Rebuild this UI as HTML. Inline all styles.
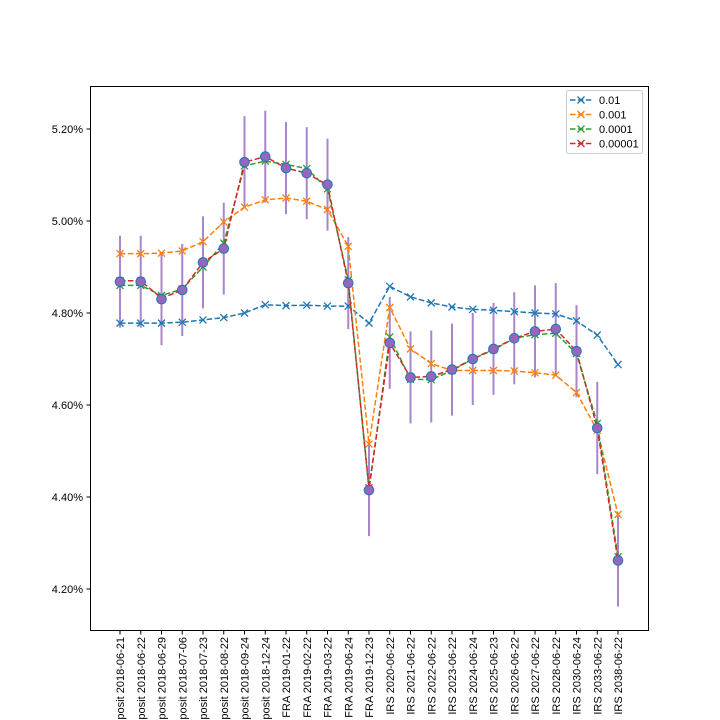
<!DOCTYPE html>
<html><head><meta charset="utf-8"><style>
html,body{margin:0;padding:0;background:#fff;}
svg{display:block;font-family:"Liberation Sans","DejaVu Sans",sans-serif;}
</style></head><body>
<svg id="chart" width="720" height="720" viewBox="0 0 720 720">
<rect x="0" y="0" width="720" height="720" fill="#fff"/>
<g id="yaxis"></g>
<g id="xaxis"></g>
<g id="bars"></g>
<g id="lines"></g>
<g id="dots"></g>
<rect x="90.5" y="86.5" width="558" height="544" fill="none" stroke="#000" stroke-width="1"/>
<g id="legend"></g>
</svg>
<script>
const categories=["Deposit 2018-06-21","Deposit 2018-06-22","Deposit 2018-06-29","Deposit 2018-07-06","Deposit 2018-07-23","Deposit 2018-08-22","Deposit 2018-09-24","Deposit 2018-12-24","FRA 2019-01-22","FRA 2019-02-22","FRA 2019-03-22","FRA 2019-06-24","FRA 2019-12-23","IRS 2020-06-22","IRS 2021-06-22","IRS 2022-06-22","IRS 2023-06-22","IRS 2024-06-24","IRS 2025-06-23","IRS 2026-06-22","IRS 2027-06-22","IRS 2028-06-22","IRS 2030-06-24","IRS 2033-06-22","IRS 2038-06-22"];
const market=[4.868,4.868,4.830,4.850,4.910,4.940,5.128,5.140,5.115,5.104,5.079,4.865,4.415,4.735,4.660,4.662,4.677,4.700,4.722,4.745,4.760,4.765,4.717,4.550,4.262];
const errorSize=[0.1,0.1,0.1,0.1,0.1,0.1,0.1,0.1,0.1,0.1,0.1,0.1,0.1,0.1,0.1,0.1,0.1,0.1,0.1,0.1,0.1,0.1,0.1,0.1,0.1];
const s001=[4.778,4.778,4.778,4.780,4.785,4.790,4.800,4.818,4.816,4.817,4.815,4.815,4.778,4.858,4.835,4.822,4.813,4.808,4.806,4.803,4.800,4.798,4.783,4.752,4.688];
const s0001=[4.929,4.929,4.930,4.935,4.955,4.998,5.030,5.046,5.050,5.043,5.025,4.945,4.515,4.812,4.722,4.690,4.675,4.675,4.675,4.674,4.670,4.665,4.627,4.545,4.362];
const s00001=[4.860,4.860,4.838,4.852,4.900,4.952,5.120,5.130,5.123,5.114,5.070,4.872,4.415,4.748,4.656,4.655,4.675,4.700,4.720,4.745,4.753,4.756,4.712,4.560,4.270];
const s000001=[4.870,4.870,4.832,4.850,4.910,4.940,5.128,5.140,5.115,5.104,5.078,4.865,4.420,4.735,4.660,4.662,4.677,4.700,4.722,4.745,4.760,4.765,4.717,4.550,4.262];
const seriesNames=["0.01","0.001","0.0001","0.00001"];
const yTicks=[4.2,4.4,4.6,4.8,5.0,5.2];

const NS="http://www.w3.org/2000/svg";
function X(i){return 120+i*(618-120)/(categories.length-1);}
function Y(v){return 221-(v-5.0)*460;}
function mk(tag,attrs,parent){const e=document.createElementNS(NS,tag);for(const k in attrs)e.setAttribute(k,attrs[k]);parent.appendChild(e);return e;}

const ya=document.getElementById('yaxis');
yTicks.forEach(t=>{
  const y=Y(t);
  const tk=mk('line',{x1:86.5,x2:90.5,y1:y,y2:y,stroke:'#000'},ya);
  
  
  const tx=mk('text',{x:83,y:y+4,'text-anchor':'end','font-size':'11',fill:'#000'},ya);
  tx.textContent=t.toFixed(2)+'%';
  
  
});
const xa=document.getElementById('xaxis');
categories.forEach((c,i)=>{
  const x=X(i);
  const tk=mk('line',{x1:x,x2:x,y1:630.5,y2:634.5,stroke:'#000'},xa);
  
  
  const tx=mk('text',{x:0,y:0,'text-anchor':'end','font-size':'11',fill:'#000',transform:`translate(${x+4},637) rotate(-90)`},xa);
  tx.textContent=c;
  
  
});
const bars=document.getElementById('bars');
market.forEach((v,i)=>{
  const b=mk('line',{x1:X(i),x2:X(i),y1:Y(v+errorSize[i]),y2:Y(v-errorSize[i]),stroke:'#9467bd','stroke-opacity':'0.8','stroke-width':'2'},bars);
  
  
});
const colors=['#1f77b4','#ff7f0e','#2ca02c','#d62728'];
const allSeries=[s001,s0001,s00001,s000001];
const lines=document.getElementById('lines');
function xmark(g,x,y,col){
  mk('path',{d:`M${x-3.5},${y-3.5}L${x+3.5},${y+3.5}M${x-3.5},${y+3.5}L${x+3.5},${y-3.5}`,stroke:col,'stroke-width':'1.3',fill:'none'},g);
}
allSeries.forEach((s,k)=>{
  const g=mk('g',{},lines);
  
  
  const d=s.map((v,i)=>(i?'L':'M')+X(i).toFixed(2)+','+Y(v).toFixed(2)).join('');
  mk('path',{d:d,fill:'none',stroke:colors[k],'stroke-width':'1.5','stroke-dasharray':'5.5,2.4'},g);
  s.forEach((v,i)=>xmark(g,X(i),Y(v),colors[k]));
});
const dots=document.getElementById('dots');
market.forEach((v,i)=>{
  const c=mk('circle',{cx:X(i),cy:Y(v),r:4.8,fill:'#9467bd',stroke:'#1f77b4','stroke-width':'1'},dots);
  
  
});
const lg=document.getElementById('legend');
mk('rect',{x:566.5,y:90.5,width:76,height:63,rx:2,fill:'#fff','fill-opacity':'0.8',stroke:'#ccc'},lg);
seriesNames.forEach((n,k)=>{
  const y=100+k*14.5;
  const g=mk('g',{},lg);
  
  
  mk('line',{x1:570,x2:592,y1:y,y2:y,stroke:colors[k],'stroke-width':'1.5','stroke-dasharray':'5.5,2.4'},g);
  xmark(g,581,y,colors[k]);
  const t=mk('text',{x:599,y:y+4,'font-size':'11',fill:'#000'},g);
  t.textContent=n;
});
</script>
</body></html>
